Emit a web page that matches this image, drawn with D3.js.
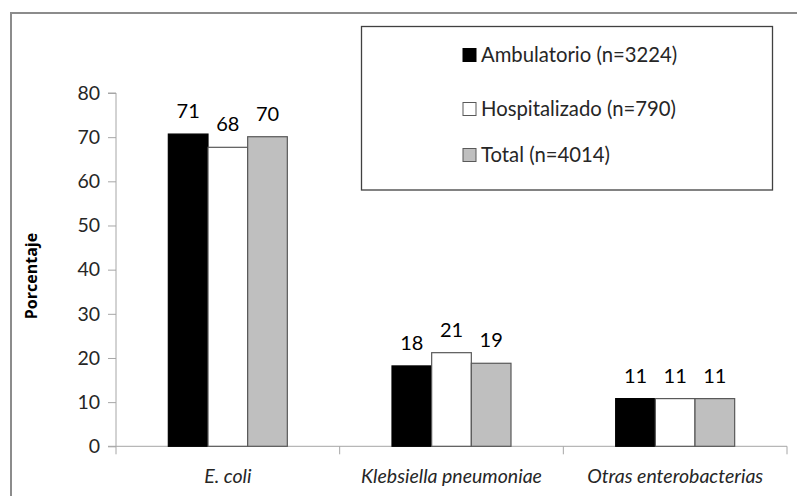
<!DOCTYPE html>
<html>
<head>
<meta charset="utf-8">
<script src="https://cdn.jsdelivr.net/npm/d3@7"></script>
<style>
  html, body { margin: 0; padding: 0; background: #fff; }
  svg { display: block; font-family: "Lato", "Open Sans", sans-serif; }
</style>
</head>
<body>
<svg id="chart" width="797" height="496"></svg>
<script>
const categories = ["E. coli", "Klebsiella pneumoniae", "Otras enterobacterias"];
const seriesNames = ["Ambulatorio (n=3224)", "Hospitalizado (n=790)", "Total (n=4014)"];
const ambulatorio = [70.7, 18.2, 10.8];
const hospitalizado = [67.7, 21.2, 10.8];
const total = [70.1, 18.8, 10.8];
const labelsAmb = ["71", "18", "11"];
const labelsHosp = ["68", "21", "11"];
const labelsTot = ["70", "19", "11"];
const yTicks = [0, 10, 20, 30, 40, 50, 60, 70, 80];

const seriesValues = [ambulatorio, hospitalizado, total];
const seriesLabels = [labelsAmb, labelsHosp, labelsTot];
const fills = ["#000000", "#ffffff", "#bfbfbf"];
const strokes = ["#000000", "#595959", "#595959"];

const svg = d3.select("#chart");

// outer frame
svg.append("rect")
  .attr("x", 11).attr("y", 13).attr("width", 800).attr("height", 500)
  .attr("fill", "none").attr("stroke", "#8c8c8c").attr("stroke-width", 2);

const x0 = d3.scaleBand().domain(categories).range([116, 787]).padding(0);
const bw = x0.bandwidth();
const x1 = d3.scaleBand().domain(d3.range(3)).range([bw * 0.234, bw * 0.766]).padding(0);
const y = d3.scaleLinear().domain([0, 80]).range([446.3, 93]);

// Y axis
const yAxis = d3.axisLeft(y).tickValues(yTicks).tickSize(8).tickPadding(8);
const gy = svg.append("g").attr("transform", "translate(116,0)").call(yAxis);
gy.select(".domain").attr("stroke", "#a6a6a6").attr("d", `M-8,${y(80)}H0V${y(0)}`);
gy.selectAll(".tick line").attr("stroke", "#a6a6a6");
gy.selectAll(".tick text").attr("font-size", 19.5).attr("fill", "#262626")
  .attr("font-family", "Lato, 'Open Sans', sans-serif");

// X axis line with ticks between categories
const gx = svg.append("g");
gx.append("line").attr("x1", 108).attr("x2", x0.range()[1])
  .attr("y1", y(0)).attr("y2", y(0)).attr("stroke", "#a6a6a6");
const boundaries = categories.map(c => x0(c)).concat([x0.range()[1]]);
gx.selectAll("line.tk").data(boundaries).enter().append("line")
  .attr("class", "tk")
  .attr("x1", d => d).attr("x2", d => d)
  .attr("y1", y(0)).attr("y2", y(0) + 8).attr("stroke", "#a6a6a6");
gx.selectAll("text.cat").data(categories).enter().append("text")
  .attr("class", "cat")
  .attr("x", d => x0(d) + bw / 2).attr("y", 483)
  .attr("text-anchor", "middle").attr("font-style", "italic")
  .attr("font-size", 19.5).attr("fill", "#262626").text(d => d);

// Bars
const groups = svg.selectAll("g.grp").data(categories).enter().append("g")
  .attr("class", "grp").attr("transform", d => `translate(${x0(d)},0)`);
seriesValues.forEach((vals, si) => {
  groups.append("rect")
    .attr("x", (d, i) => x1(si))
    .attr("y", (d, i) => y(vals[i]))
    .attr("width", x1.bandwidth())
    .attr("height", (d, i) => y(0) - y(vals[i]))
    .attr("fill", fills[si]).attr("stroke", strokes[si]).attr("stroke-width", 1.2);
  groups.append("text")
    .attr("x", (d, i) => x1(si) + x1.bandwidth() / 2)
    .attr("y", (d, i) => y(vals[i]) - 16)
    .attr("text-anchor", "middle").attr("font-size", 20).attr("fill", "#000")
    .text((d, i) => seriesLabels[si][i]);
});

// Y title
svg.append("text")
  .attr("transform", "translate(37,276) rotate(-90)")
  .attr("text-anchor", "middle").attr("font-weight", "bold")
  .attr("font-family", "'Open Sans', 'Noto Sans', sans-serif")
  .attr("font-size", 16).attr("fill", "#000").text("Porcentaje");

// Legend
const lg = svg.append("g");
lg.append("rect").attr("x", 361.5).attr("y", 26.5).attr("width", 411).attr("height", 163.5)
  .attr("fill", "#fff").attr("stroke", "#404040").attr("stroke-width", 1.3);
const rowY = [55, 109, 155];
seriesNames.forEach((name, i) => {
  lg.append("rect").attr("x", 463).attr("y", rowY[i] - 6.5).attr("width", 13).attr("height", 13)
    .attr("fill", fills[i]).attr("stroke", i === 0 ? "#000" : "#595959").attr("stroke-width", 1);
  lg.append("text").attr("x", 481).attr("y", rowY[i] + 7)
    .attr("font-size", 20.3).attr("fill", "#262626").text(name);
});
</script>
</body>
</html>
